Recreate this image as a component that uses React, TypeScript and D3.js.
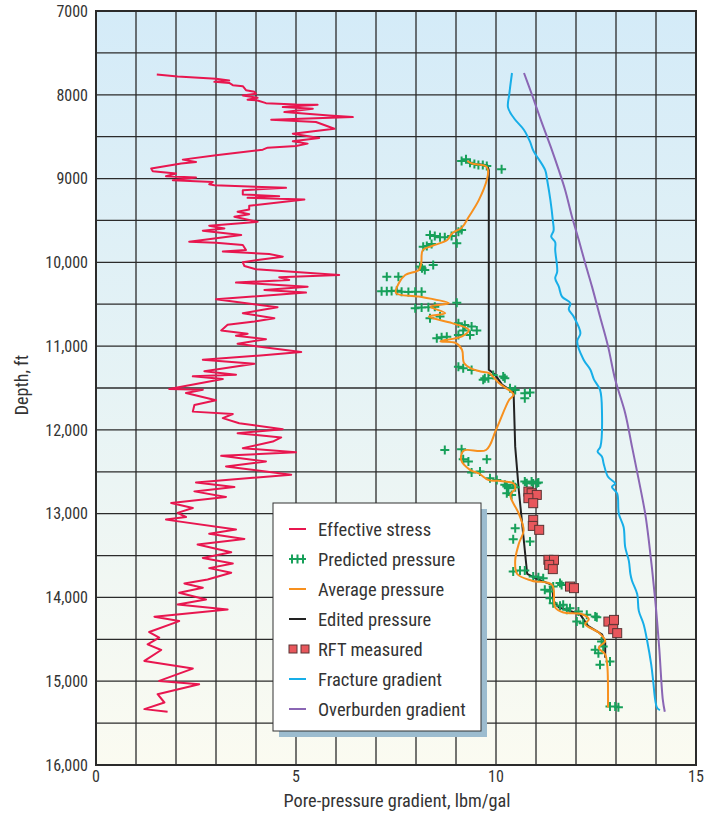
import React from "react";
import * as d3 from "d3";

// Effective stress: [depth ft, gradient lbm/gal]
const effectiveStress: [number, number][] = [
  [7758, 1.52], [7782, 2.04], [7810, 3.0], [7830, 3.33], [7845, 2.96], [7858, 3.33], [7885, 3.42],
  [7897, 3.67], [7945, 3.75], [7965, 3.96], [7988, 4.0], [8008, 3.67], [8036, 4.04], [8060, 3.79],
  [8068, 4.04], [8100, 4.25], [8115, 5.0], [8118, 5.54], [8147, 4.67], [8167, 5.42], [8206, 4.71],
  [8246, 5.83], [8266, 6.42], [8298, 4.38], [8325, 5.5], [8405, 5.96], [8464, 4.92], [8516, 5.58],
  [8555, 4.92], [8583, 5.29], [8611, 5.0], [8631, 4.29], [8655, 4.17], [8722, 3.0], [8774, 2.17],
  [8802, 2.5], [8821, 2.13], [8881, 1.38], [8913, 1.42], [8940, 2.0], [8972, 1.75], [8988, 2.5],
  [9020, 1.92], [9040, 2.92], [9068, 2.83], [9080, 2.96], [9111, 4.75], [9139, 3.67], [9190, 3.67],
  [9210, 4.58], [9230, 3.79], [9250, 5.21], [9325, 3.83], [9369, 3.83], [9397, 3.54], [9425, 3.83],
  [9456, 3.46], [9516, 4.04], [9563, 2.83], [9595, 3.21], [9623, 2.67], [9675, 3.63], [9754, 2.33],
  [9766, 3.0], [9794, 3.67], [9853, 3.75], [9870, 3.17], [9900, 4.33], [9932, 4.67], [9972, 4.04],
  [10000, 3.67], [10044, 3.71], [10083, 4.0], [10151, 6.08], [10178, 4.58], [10210, 4.83],
  [10242, 3.5], [10290, 5.29], [10330, 4.21], [10361, 5.25], [10440, 3.0], [10536, 4.54],
  [10607, 3.67], [10667, 4.46], [10706, 3.96], [10746, 3.29], [10813, 3.13], [10853, 3.79],
  [10877, 3.5], [10917, 4.25], [10972, 3.54], [11071, 5.13], [11115, 4.04], [11163, 2.67],
  [11210, 3.96], [11301, 2.71], [11341, 3.5], [11361, 2.42], [11393, 3.17], [11512, 1.83],
  [11520, 2.67], [11560, 2.25], [11647, 3.0], [11702, 2.46], [11782, 2.42], [11810, 3.42],
  [11860, 3.17], [11920, 3.58], [11992, 4.67], [12040, 3.54], [12090, 4.63], [12139, 4.42],
  [12218, 3.67], [12266, 5.0], [12310, 3.13], [12377, 4.25], [12436, 3.25], [12536, 4.88],
  [12627, 2.5], [12683, 3.46], [12734, 2.46], [12800, 3.25], [12873, 1.88], [12932, 2.42],
  [12990, 2.04], [13040, 2.25], [13071, 1.75], [13190, 3.5], [13240, 2.83], [13302, 3.71],
  [13369, 2.54], [13460, 3.38], [13528, 2.67], [13595, 3.42], [13650, 2.83], [13706, 3.38],
  [13785, 2.79], [13833, 2.21], [13885, 2.67], [13944, 2.08], [14024, 2.75], [14083, 2.04],
  [14143, 3.29], [14230, 1.46], [14282, 2.08], [14413, 1.33], [14480, 1.58], [14560, 1.29],
  [14627, 1.63], [14758, 1.21], [14849, 2.42], [14996, 1.58], [15036, 2.58], [15155, 1.54],
  [15254, 1.71], [15333, 1.21], [15365, 1.79],
];

// Predicted pore pressure samples
const predictedPressure: [number, number][] = [
  [8790, 9.14], [8770, 9.25], [8810, 9.35], [8826, 9.46], [8838, 9.56], [8838, 9.67], [8850, 9.77],
  [8889, 10.14],
  [9673, 8.35], [9685, 8.47], [9700, 8.6], [9700, 8.72], [9685, 8.89], [9634, 9.06], [9613, 9.14],
  [9813, 8.18], [9805, 8.27], [9781, 8.39], [9773, 9.02], [10031, 8.43], [10051, 8.1], [10071, 8.15],
  [10091, 8.22], [10171, 7.27], [10171, 7.56], [10345, 7.14], [10345, 7.27], [10343, 7.39],
  [10340, 7.52], [10350, 7.64], [10355, 7.81], [10352, 7.98], [10352, 8.14], [10548, 7.98],
  [10540, 8.14], [10535, 8.31], [10530, 8.47], [10481, 9.02],
  [10667, 8.35], [10648, 8.6], [10727, 9.06], [10747, 9.22], [10767, 9.39], [10815, 9.52],
  [10815, 9.18], [10866, 9.35], [10866, 9.06], [10906, 8.52], [10894, 8.64], [10887, 8.77],
  [11245, 9.06], [11264, 9.18], [11284, 9.39], [11383, 9.72], [11344, 9.93], [11364, 10.18],
  [11403, 9.68], [11383, 9.81], [11383, 10.22], [11502, 10.35], [11523, 10.48], [11562, 10.72],
  [11555, 10.85], [11622, 10.72],
  [12239, 8.72], [12231, 9.14], [12350, 9.18], [12378, 9.31], [12350, 9.77], [12509, 9.39],
  [12497, 9.6], [12577, 9.85], [12597, 10.02], [12656, 10.22], [12696, 10.31], [12686, 10.48],
  [12617, 10.72], [12617, 10.89], [12636, 11.02], [12677, 10.27], [12656, 10.43], [12636, 10.77],
  [12640, 10.93], [12629, 11.06], [12756, 10.27], [12776, 10.39],
  [13173, 10.48], [13304, 10.43], [13333, 10.85], [13690, 10.43], [13679, 10.6], [13679, 10.72],
  [13750, 10.93], [13758, 11.06], [13770, 11.18], [13829, 11.6], [13909, 11.22], [13929, 11.35],
  [14009, 11.35], [14068, 11.43], [14100, 11.6], [14148, 11.77], [14168, 12.06], [14208, 12.27],
  [14228, 12.48], [13870, 11.43], [13850, 11.64], [14088, 11.68], [14128, 11.85], [14288, 12.02],
  [14308, 12.18], [14236, 12.52], [14526, 12.64], [14586, 12.68], [14625, 12.48], [14665, 12.56],
  [14804, 12.6], [14765, 12.85], [15302, 12.85], [15302, 12.98], [15310, 13.06],
];

// Average pore pressure
const averagePressure: [number, number][] = [
  [8790, 9.28], [8820, 9.4], [8853, 9.75], [8900, 9.8], [9000, 9.78], [9258, 9.57], [9456, 9.32],
  [9583, 9.15], [9655, 8.9], [9734, 8.78], [9805, 8.4], [9853, 8.17], [10012, 8.13], [10091, 8.07],
  [10151, 7.73], [10250, 7.57], [10365, 7.5], [10409, 8.07], [10488, 8.82], [10528, 8.36],
  [10607, 8.73], [10647, 8.32], [10726, 8.9], [10805, 9.32], [10885, 9.15], [10944, 8.61],
  [10964, 9.0], [11044, 9.15], [11202, 9.2], [11262, 9.36], [11302, 9.61], [11321, 9.82],
  [11440, 10.07], [11580, 10.44], [11640, 10.33], [12000, 10.0], [12240, 9.75], [12248, 9.19],
  [12360, 9.13], [12480, 9.36], [12520, 9.57], [12600, 9.82], [12608, 10.07], [12640, 10.44],
  [12700, 10.48], [12780, 10.36], [13000, 10.57], [13200, 10.69], [13360, 10.57], [13560, 10.48],
  [13720, 10.53], [13800, 10.9], [13850, 11.4], [14120, 11.48], [14180, 11.69], [14200, 12.15],
  [14260, 12.32], [14320, 12.23], [14420, 12.57], [14520, 12.73], [14600, 12.57], [14680, 12.73],
  [14800, 12.78], [15315, 12.8],
];

// Edited pore pressure
const editedPressure: [number, number][] = [
  [8790, 9.28], [8820, 9.36], [8841, 9.78], [8900, 9.82], [11282, 9.82], [11341, 9.98],
  [11460, 10.15], [11550, 10.44], [12200, 10.48], [12720, 10.57], [13720, 10.78], [13770, 10.98],
  [13850, 11.4], [14040, 11.44], [14120, 11.57], [14200, 12.1], [14340, 12.3], [14440, 12.65],
  [14540, 12.73], [14720, 12.73],
];

// RFT pressure measurements
const rftMeasured: [number, number][] = [
  [12736, 10.81], [12756, 10.89], [12776, 11.02], [12815, 10.81], [12875, 10.93], [13074, 10.93],
  [13146, 10.92], [13193, 11.08], [13551, 11.31], [13551, 11.45], [13611, 11.33], [13662, 11.42],
  [13870, 11.85], [13889, 11.95], [14288, 12.81], [14268, 12.95], [14379, 12.93], [14426, 13.03],
];

// Fracture gradient
const fractureGradient: [number, number][] = [
  [7740, 10.4], [8000, 10.33], [8150, 10.3], [8280, 10.45], [8420, 10.7], [8560, 10.85],
  [8663, 10.93], [8900, 11.23], [9020, 11.28], [9258, 11.36], [9496, 11.42], [9620, 11.44],
  [9694, 11.38], [9760, 11.48], [9853, 11.48], [10111, 11.53], [10190, 11.48], [10290, 11.57],
  [10409, 11.65], [10488, 11.86], [10560, 11.82], [10647, 11.94], [10845, 12.11], [10944, 12.03],
  [11163, 12.19], [11282, 12.36], [11400, 12.45], [11520, 12.6], [11800, 12.65], [12200, 12.61],
  [12260, 12.54], [12320, 12.65], [12400, 12.69], [12560, 12.8], [12640, 12.98], [12680, 12.9],
  [12760, 13.03], [13000, 13.07], [13160, 13.19], [13400, 13.23], [13560, 13.32], [13720, 13.36],
  [13800, 13.4], [13960, 13.53], [14160, 13.57], [14320, 13.69], [14520, 13.78], [14800, 13.88],
  [15000, 13.93], [15222, 13.98], [15320, 14.03], [15345, 14.1],
];

// Overburden gradient
const overburdenGradient: [number, number][] = [
  [7740, 10.7], [8000, 10.9], [8300, 11.12], [8663, 11.4], [8900, 11.57], [9139, 11.73],
  [9456, 11.9], [9734, 12.07], [10012, 12.23], [10290, 12.4], [10647, 12.6], [11000, 12.8],
  [11400, 12.98], [11800, 13.23], [12200, 13.4], [12600, 13.57], [13000, 13.73], [13320, 13.82],
  [14030, 13.98], [14600, 14.08], [15220, 14.17], [15365, 14.22],
];

const depthTicks = [7000, 8000, 9000, 10000, 11000, 12000, 13000, 14000, 15000, 16000];
const gradientTicks = [0, 5, 10, 15];
const legendLabels = [
  "Effective stress",
  "Predicted pressure",
  "Average pressure",
  "Edited pressure",
  "RFT measured",
  "Fracture gradient",
  "Overburden gradient",
];

const W = 707;
const H = 818;
const FONT = "'Liberation Sans Narrow', 'Roboto Condensed', 'Arial Narrow', Roboto, sans-serif";

const C = {
  stress: "#e8164f",
  predicted: "#17a05a",
  average: "#f7901e",
  edited: "#222222",
  rftFill: "#e8575c",
  rftStroke: "#5a3434",
  fracture: "#17aee8",
  overburden: "#8a66b4",
  grid: "#2b2b2b",
  text: "#333333",
};

export default function App() {
  const x = d3.scaleLinear().domain([0, 15]).range([96, 696]);
  const y = d3.scaleLinear().domain([7000, 16000]).range([11, 765]);

  const [x0, x1] = x.range();
  const [y0, y1] = y.range();

  const lineOf = (curve: d3.CurveFactory) =>
    d3
      .line<[number, number]>()
      .x((d) => x(d[1]))
      .y((d) => y(d[0]))
      .curve(curve);

  const straight = lineOf(d3.curveLinear);
  const smooth = lineOf(d3.curveCatmullRom.alpha(0.5));

  const vGrid = d3.range(0, 16, 1);
  const hGrid = d3.range(7000, 16001, 500);

  const fmt = (v: number) => (v >= 10000 ? d3.format(",")(v) : String(v));

  const plus = (cx: number, cy: number, s = 4.5) =>
    `M${cx - s},${cy}H${cx + s}M${cx},${cy - s}V${cy + s}`;

  // legend layout
  const lg = { x: 273, y: 503, w: 208, h: 228 };
  const rowY = (i: number) => 529 + i * 30;

  return (
    <svg
      width={W}
      height={H}
      style={{ position: "absolute", left: 0, top: 0, background: "#ffffff" }}
      fontFamily={FONT}
    >
      <defs>
        <linearGradient id="bg" x1="0" y1="0" x2="0" y2="1">
          <stop offset="0" stopColor="#d4ebf8" />
          <stop offset="0.5" stopColor="#e6f3f5" />
          <stop offset="1" stopColor="#fbfbf1" />
        </linearGradient>
        <clipPath id="plot">
          <rect x={x0} y={y0} width={x1 - x0} height={y1 - y0} />
        </clipPath>
      </defs>

      <rect x={x0} y={y0} width={x1 - x0} height={y1 - y0} fill="url(#bg)" />

      {/* grid */}
      <g stroke={C.grid} strokeWidth={1.3}>
        {vGrid.map((v) => (
          <line key={"v" + v} x1={x(v)} x2={x(v)} y1={y0} y2={y1} />
        ))}
        {hGrid.map((d) => (
          <line key={"h" + d} x1={x0} x2={x1} y1={y(d)} y2={y(d)} />
        ))}
      </g>
      <rect x={x0} y={y0} width={x1 - x0} height={y1 - y0} fill="none" stroke={C.grid} strokeWidth={2} />

      <g clipPath="url(#plot)">
        <path d={straight(effectiveStress) ?? ""} fill="none" stroke={C.stress} strokeWidth={2} strokeLinejoin="round" />
        <path d={smooth(fractureGradient) ?? ""} fill="none" stroke={C.fracture} strokeWidth={2} />
        <path d={smooth(overburdenGradient) ?? ""} fill="none" stroke={C.overburden} strokeWidth={2} />
        <path d={straight(editedPressure) ?? ""} fill="none" stroke={C.edited} strokeWidth={2} />
        <path
          d={predictedPressure.map((p) => plus(x(p[1]), y(p[0]))).join("")}
          fill="none"
          stroke={C.predicted}
          strokeWidth={2}
        />
        <path d={smooth(averagePressure) ?? ""} fill="none" stroke={C.average} strokeWidth={2} />
        {rftMeasured.map((p, i) => (
          <rect
            key={i}
            x={x(p[1]) - 4.5}
            y={y(p[0]) - 4.5}
            width={9}
            height={9}
            fill={C.rftFill}
            stroke={C.rftStroke}
            strokeWidth={1}
          />
        ))}
      </g>

      {/* axes labels */}
      <g fontSize={16} fill={C.text}>
        {depthTicks.map((d) => (
          <text key={d} x={88} y={y(d)} dy="0.36em" textAnchor="end">
            {fmt(d)}
          </text>
        ))}
        {gradientTicks.map((v) => (
          <text key={v} x={x(v)} y={782} textAnchor="middle">
            {v}
          </text>
        ))}
      </g>
      <text x={397} y={807} fontSize={18.3} fill={C.text} textAnchor="middle">
        Pore-pressure gradient, lbm/gal
      </text>
      <text
        transform={`translate(28,385) rotate(-90)`}
        fontSize={18}
        fill={C.text}
        textAnchor="middle"
      >
        Depth, ft
      </text>

      {/* legend */}
      <rect x={lg.x + 6} y={lg.y + 6} width={lg.w} height={lg.h} fill="#9cbccf" />
      <rect x={lg.x} y={lg.y} width={lg.w} height={lg.h} fill="#ffffff" stroke="#333" strokeWidth={1} />
      <g fontSize={18.5} fill={C.text}>
        {legendLabels.map((label, i) => {
          const cy = rowY(i);
          let sym: React.ReactNode = null;
          if (i === 1) {
            sym = (
              <path
                d={`M289,${cy}H306M292,${cy - 4.5}V${cy + 4.5}M297.5,${cy - 4.5}V${cy + 4.5}M303,${cy - 4.5}V${cy + 4.5}`}
                stroke={C.predicted}
                strokeWidth={2}
                fill="none"
              />
            );
          } else if (i === 4) {
            sym = (
              <g fill={C.rftFill} stroke={C.rftStroke} strokeWidth={1}>
                <rect x={289} y={cy - 4} width={8} height={8} />
                <rect x={301} y={cy - 4} width={8} height={8} />
              </g>
            );
          } else {
            const col = [C.stress, null, C.average, C.edited, null, C.fracture, C.overburden][i] as string;
            sym = <line x1={289} x2={306} y1={cy} y2={cy} stroke={col} strokeWidth={2} />;
          }
          return (
            <g key={label}>
              {sym}
              <text x={318} y={cy} dy="0.36em">
                {label}
              </text>
            </g>
          );
        })}
      </g>
    </svg>
  );
}
